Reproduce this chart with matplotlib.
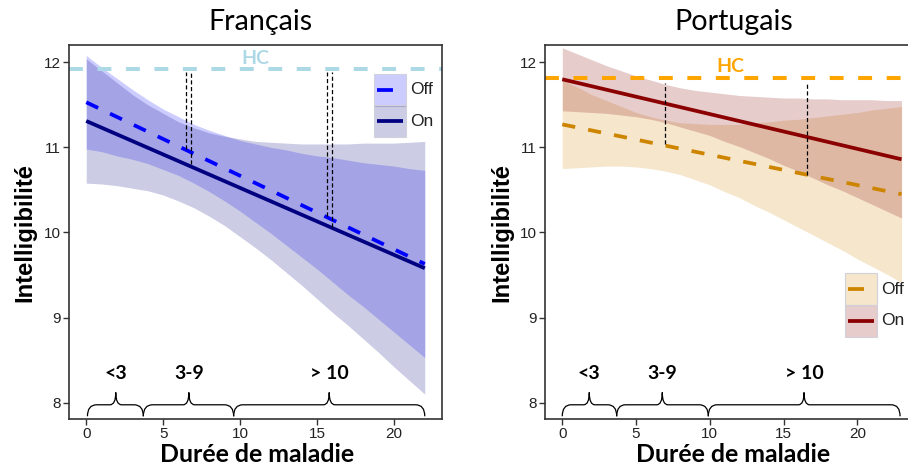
import numpy as np
import matplotlib
matplotlib.use("Agg")
import matplotlib.pyplot as plt
from matplotlib.path import Path
from matplotlib.patches import PathPatch, Rectangle
from matplotlib.lines import Line2D

plt.rcParams['lines.scale_dashes'] = False
plt.rcParams['font.family'] = ['Liberation Sans', 'DejaVu Sans']

# ---------------- data : Français ----------------
fr_x = [0, 1, 2, 3, 4, 5, 6, 7, 8, 9, 10, 11, 12, 13, 14, 15, 16, 17, 18, 19, 20, 21, 22]
fr_off_lo = [10.98, 10.95, 10.90, 10.86, 10.81, 10.74, 10.67, 10.58, 10.48, 10.37, 10.25, 10.12,
             9.99, 9.85, 9.71, 9.57, 9.42, 9.27, 9.13, 8.98, 8.83, 8.68, 8.53]
fr_off_hi = [12.08, 11.94, 11.81, 11.68, 11.56, 11.45, 11.36, 11.27, 11.20, 11.14, 11.08, 11.04,
             11.00, 10.97, 10.93, 10.90, 10.88, 10.85, 10.82, 10.80, 10.78, 10.75, 10.73]
fr_on_lo = [10.58, 10.57, 10.55, 10.52, 10.49, 10.44, 10.37, 10.29, 10.19, 10.08, 9.95, 9.82,
            9.68, 9.53, 9.38, 9.22, 9.06, 8.91, 8.75, 8.59, 8.42, 8.26, 8.10]
fr_on_hi = [12.04, 11.90, 11.76, 11.62, 11.50, 11.40, 11.30, 11.23, 11.17, 11.13, 11.10, 11.07,
            11.06, 11.05, 11.04, 11.04, 11.04, 11.04, 11.05, 11.05, 11.05, 11.06, 11.07]
fr_line_x = [0, 22]
fr_off_line = [11.53, 9.63]
fr_on_line = [11.31, 9.58]
fr_hc = 11.92
fr_gap_x = [6.47, 6.84, 15.64, 15.97]
fr_gap_lo = [10.98, 10.80, 10.19, 10.07]
fr_gap_hi = 11.88
fr_brace_start = [0.08, 3.71, 9.58]
fr_brace_end = [3.71, 9.58, 22.0]
fr_brace_tip = [1.92, 6.67, 15.79]

# ---------------- data : Portugais ----------------
pt_x = [0, 1, 2, 3, 4, 5, 6, 7, 8, 9, 10, 11, 12, 13, 14, 15, 16, 17, 18, 19, 20, 21, 22, 23]
pt_off_lo = [10.75, 10.76, 10.77, 10.78, 10.78, 10.77, 10.75, 10.72, 10.68, 10.62, 10.56, 10.48,
             10.41, 10.32, 10.24, 10.15, 10.06, 9.97, 9.88, 9.79, 9.69, 9.60, 9.51, 9.41]
pt_off_hi = [11.79, 11.71, 11.62, 11.55, 11.48, 11.41, 11.36, 11.32, 11.29, 11.28, 11.27, 11.27,
             11.27, 11.29, 11.30, 11.32, 11.33, 11.35, 11.37, 11.39, 11.41, 11.44, 11.46, 11.48]
pt_on_lo = [11.43, 11.42, 11.41, 11.40, 11.38, 11.36, 11.33, 11.29, 11.24, 11.19, 11.14, 11.07,
            11.01, 10.94, 10.87, 10.79, 10.72, 10.64, 10.56, 10.49, 10.41, 10.33, 10.25, 10.17]
pt_on_hi = [12.17, 12.10, 12.03, 11.96, 11.90, 11.84, 11.79, 11.74, 11.70, 11.67, 11.65, 11.63,
            11.61, 11.60, 11.59, 11.58, 11.58, 11.57, 11.57, 11.56, 11.56, 11.56, 11.55, 11.55]
pt_line_x = [0, 23]
pt_off_line = [11.27, 10.45]
pt_on_line = [11.80, 10.86]
pt_hc = 11.82
pt_gap_x = [6.96, 16.57]
pt_gap_lo = [11.04, 10.68]
pt_gap_hi = 11.76
pt_brace_start = [0.0, 3.69, 9.9]
pt_brace_end = [3.69, 9.9, 22.9]
pt_brace_tip = [1.83, 6.78, 16.39]

group_labels = ["<3", "3-9", "> 10"]
series_labels = ["Off", "On"]
y_ticks = [8, 9, 10, 11, 12]
x_ticks = [0, 5, 10, 15, 20]

W, H = 908, 470
fig = plt.figure(figsize=(W / 100, H / 100), dpi=100)
fig.patch.set_facecolor('white')

TXT = '#222222'
LABEL_FONT = ['Lato', 'DejaVu Sans']
SANS = ['Liberation Sans', 'DejaVu Sans']


def axes_rect(left_px, right_px, top_px, bottom_px):
    return [left_px / W, 1 - bottom_px / H, (right_px - left_px) / W, (bottom_px - top_px) / H]


def fit_text(t, target_px, vertical=False):
    fig.canvas.draw()
    r = fig.canvas.get_renderer()
    bb = t.get_window_extent(r)
    cur = bb.height if vertical else bb.width
    t.set_fontsize(t.get_fontsize() * target_px / cur)


def brace(ax, x0, x1, xt, yb=7.84, ym=7.975, yt=8.12, r=0.6, rt=0.38):
    verts = [(x0, yb), (x0, ym), (x0 + r, ym),
             (xt - rt, ym), (xt, ym), (xt, yt),
             (xt, ym), (xt + rt, ym),
             (x1 - r, ym), (x1, ym), (x1, yb)]
    codes = [Path.MOVETO, Path.CURVE3, Path.CURVE3,
             Path.LINETO, Path.CURVE3, Path.CURVE3,
             Path.CURVE3, Path.CURVE3,
             Path.LINETO, Path.CURVE3, Path.CURVE3]
    ax.add_patch(PathPatch(Path(verts, codes), facecolor='none',
                           edgecolor='black', lw=0.9, zorder=5))


def draw_panel(ax, x, off_lo, off_hi, on_lo, on_hi, line_x, off_line, on_line,
               off_col, on_col, off_line_col, hc, hc_col, hc_xy,
               gap_x, gap_lo, gap_hi, b_start, b_end, b_tip, xlim):
    ax.fill_between(x, off_lo, off_hi, color=off_col, alpha=0.2, lw=0, zorder=1)
    ax.fill_between(x, on_lo, on_hi, color=on_col, alpha=0.2, lw=0, zorder=1)
    ax.axhline(hc, color=hc_col, lw=2.9, dashes=(10, 10.5), zorder=2)
    ax.text(hc_xy[0], hc_xy[1], "HC", color=hc_col, fontweight='bold',
            family=LABEL_FONT, fontsize=14, ha='center', va='center', zorder=3)
    ax.plot(line_x, off_line, color=off_line_col, lw=2.7, dashes=(9.5, 9.5),
            solid_capstyle='butt', zorder=3)
    ax.plot(line_x, on_line, color=on_col, lw=2.7, solid_capstyle='butt', zorder=3)
    for gx, glo in zip(gap_x, gap_lo):
        ax.plot([gx, gx], [glo, gap_hi], color='black', lw=0.9, dashes=(3, 1.8), zorder=4)
    for s, e, t, lab in zip(b_start, b_end, b_tip, group_labels):
        brace(ax, s, e, t)
        ax.text(t, 8.34, lab, ha='center', va='center', fontweight='bold',
                family=LABEL_FONT, fontsize=14, zorder=5)
    ax.set_xlim(*xlim)
    ax.set_ylim(7.808, 12.203)
    ax.set_xticks(x_ticks)
    ax.set_yticks(y_ticks)
    ax.set_xticklabels([str(v) for v in x_ticks], family=SANS)
    ax.set_yticklabels([str(v) for v in y_ticks], family=SANS)
    ax.tick_params(direction='out', length=4, width=1, color='#333333',
                   labelsize=11, labelcolor=TXT, pad=2)
    for sp in ax.spines.values():
        sp.set_color('#333333')
        sp.set_linewidth(1.2)
    ax.set_facecolor('white')


def legend_keys(left, right, top, mid, bottom, text_x, off_col, on_col,
                off_line_col, on_line_col):
    # keys drawn in figure pixel space
    def fx(px):
        return px / W

    def fy(py):
        return 1 - py / H
    for (t, b), col in zip([(top, mid), (mid, bottom)], [off_col, on_col]):
        fig.add_artist(Rectangle((fx(left), fy(b)), fx(right) - fx(left), fy(t) - fy(b),
                                 transform=fig.transFigure, facecolor=col, alpha=0.2,
                                 edgecolor='none', zorder=6))
        fig.add_artist(Rectangle((fx(left), fy(b)), fx(right) - fx(left), fy(t) - fy(b),
                                 transform=fig.transFigure, facecolor='none',
                                 edgecolor=(0.82, 0.82, 0.86), lw=0.8, zorder=6))
    yo = (top + mid) / 2
    yn = (mid + bottom) / 2
    fig.add_artist(Line2D([fx(left + 3), fx(right - 3)], [fy(yo), fy(yo)],
                          transform=fig.transFigure, color=off_line_col, lw=2.7,
                          dashes=(11.5, 9), zorder=7))
    fig.add_artist(Line2D([fx(left + 3), fx(right - 3)], [fy(yn), fy(yn)],
                          transform=fig.transFigure, color=on_line_col, lw=2.7,
                          solid_capstyle='butt', zorder=7))
    for lab, yy in zip(series_labels, [yo, yn]):
        fig.text(fx(text_x), fy(yy), lab, ha='left', va='center', fontsize=12.5,
                 family=SANS, color=TXT, zorder=7)


# ---------------- left panel ----------------
ax1 = fig.add_axes(axes_rect(69.3, 441.7, 45, 419))
draw_panel(ax1, fr_x, fr_off_lo, fr_off_hi, fr_on_lo, fr_on_hi, fr_line_x,
           fr_off_line, fr_on_line, off_col='#0000ff', on_col='#000080',
           off_line_col='#0000ff', hc=fr_hc, hc_col='#add8e6', hc_xy=(11.0, 12.04),
           gap_x=fr_gap_x, gap_lo=fr_gap_lo, gap_hi=fr_gap_hi,
           b_start=fr_brace_start, b_end=fr_brace_end, b_tip=fr_brace_tip,
           xlim=(-1.1, 23.1))

# ---------------- right panel ----------------
ax2 = fig.add_axes(axes_rect(545.3, 918.5, 45, 419))
draw_panel(ax2, pt_x, pt_off_lo, pt_off_hi, pt_on_lo, pt_on_hi, pt_line_x,
           pt_off_line, pt_on_line, off_col='#cd8500', on_col='#8b0000',
           off_line_col='#cd8500', hc=pt_hc, hc_col='#ffa500', hc_xy=(11.4, 11.95),
           gap_x=pt_gap_x, gap_lo=pt_gap_lo, gap_hi=pt_gap_hi,
           b_start=pt_brace_start, b_end=pt_brace_end, b_tip=pt_brace_tip,
           xlim=(-1.15, 24.15))

legend_keys(374, 406, 74, 105.5, 137, 410.5, '#0000ff', '#000080', '#0000ff', '#000080')
legend_keys(845, 877, 273, 305, 336.5, 881.5, '#cd8500', '#8b0000', '#cd8500', '#8b0000')

# ---------------- titles and axis labels ----------------
t1 = fig.text(260 / W, 1 - 22 / H, "Français", ha='center', va='center',
              family=LABEL_FONT, fontsize=17, color='black')
t2 = fig.text(733.5 / W, 1 - 22 / H, "Portugais", ha='center', va='center',
              family=LABEL_FONT, fontsize=17, color='black')
xl1 = fig.text(257.5 / W, 1 - 455 / H, "Durée de maladie", ha='center', va='center',
               family=LABEL_FONT, fontweight='bold', fontsize=18, color='black')
xl2 = fig.text(733 / W, 1 - 455 / H, "Durée de maladie", ha='center', va='center',
               family=LABEL_FONT, fontweight='bold', fontsize=18, color='black')
yl1 = fig.text(25 / W, 1 - 232.5 / H, "Intelligibilité", ha='center', va='center',
               rotation=90, fontweight='bold', family=SANS, fontsize=17, color='black')
yl2 = fig.text(502 / W, 1 - 232.5 / H, "Intelligibilité", ha='center', va='center',
               rotation=90, fontweight='bold', family=SANS, fontsize=17, color='black')

fit_text(t1, 104)
t2.set_fontsize(t1.get_fontsize())
fit_text(xl1, 195)
xl2.set_fontsize(xl1.get_fontsize())
fit_text(yl1, 139, vertical=True)
yl2.set_fontsize(yl1.get_fontsize())

fig.savefig("out.png", dpi=100, facecolor='white')
